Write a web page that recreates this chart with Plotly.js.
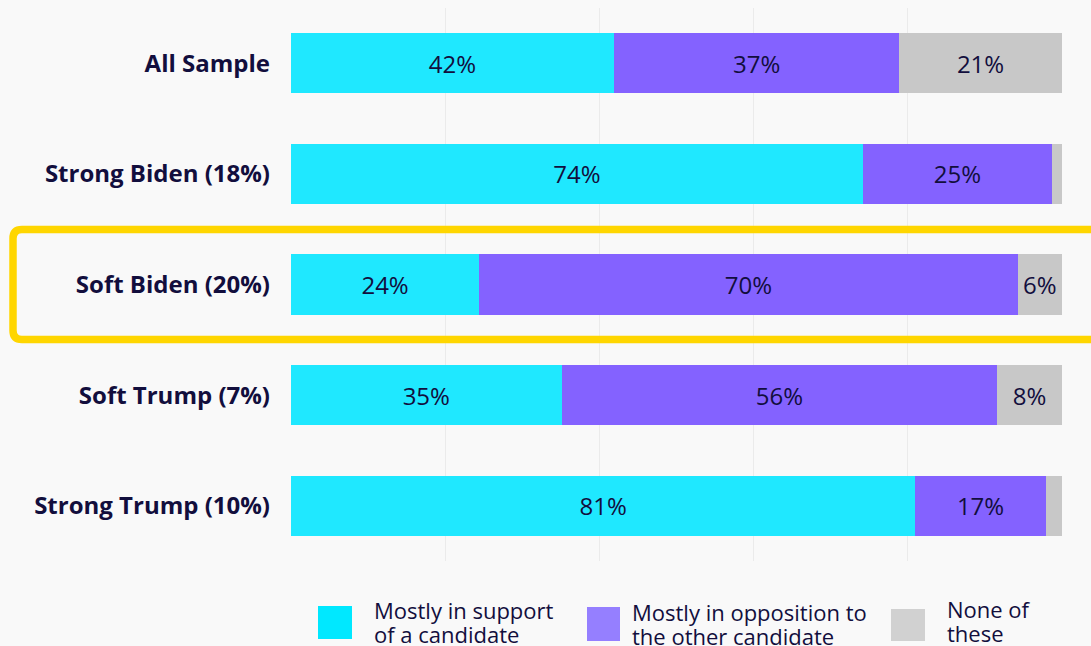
<!DOCTYPE html>
<html>
<head>
<meta charset="utf-8">
<script src="https://cdn.plot.ly/plotly-3.0.1.min.js"></script>
<style>html,body{margin:0;padding:0;background:#F9F9F9;}#chart{width:1091px;height:646px;}</style>
</head>
<body>
<div id="chart"></div>
<script>
const categories = ['All Sample', 'Strong Biden (18%)', 'Soft Biden (20%)', 'Soft Trump (7%)', 'Strong Trump (10%)'];
const support = [41.9, 74.2, 24.4, 35.1, 81.0];
const opposition = [37.0, 24.5, 69.9, 56.5, 16.9];
const noneOf = [21.1, 1.3, 5.7, 8.4, 2.1];
const supportLabels = ['42%', '74%', '24%', '35%', '81%'];
const oppositionLabels = ['37%', '25%', '70%', '56%', '17%'];
const noneLabels = ['21%', '', '6%', '8%', ''];
const seriesNames = ['Mostly in support of a candidate', 'Mostly in opposition to the other candidate', 'None of these'];
const legendLines = [['Mostly in support', 'of a candidate'], ['Mostly in opposition to', 'the other candidate'], ['None of', 'these']];

const W = 1091, H = 646;
const L = 291, R = 29, T = 8, B = 85;
const pw = W - L - R, ph = H - T - B;
const px = x => (x - L) / pw;
const py = y => (H - B - y) / ph;

const FONT = 'Open Sans, sans-serif';
const NAVY = '#120E3D';
const barColors = ['#1FE8FF', '#8462FF', '#C8C8C8'];
const legendColors = ['#00E8FF', '#957FFF', '#D1D1D1'];

function mk(vals, labels, name, color) {
  return {
    type: 'bar', orientation: 'h', y: categories, x: vals, name: name,
    text: labels, textposition: 'inside', insidetextanchor: 'middle',
    constraintext: 'none', cliponaxis: false,
    textfont: {family: FONT, size: 24, color: NAVY},
    marker: {color: color, line: {width: 0}},
    hoverinfo: 'skip'
  };
}
const data = [
  mk(support, supportLabels, seriesNames[0], barColors[0]),
  mk(opposition, oppositionLabels, seriesNames[1], barColors[1]),
  mk(noneOf, noneLabels, seriesNames[2], barColors[2])
];

function roundRect(x0, y0, x1, y1, r) {
  const rx = r / pw, ry = r / ph;
  const a = px(x0), b = px(x1), c = py(y0), d = py(y1);
  return `M ${a+rx},${c} L ${b-rx},${c} Q ${b},${c} ${b},${c-ry} L ${b},${d+ry} Q ${b},${d} ${b-rx},${d} L ${a+rx},${d} Q ${a},${d} ${a},${d+ry} L ${a},${c-ry} Q ${a},${c} ${a+rx},${c} Z`;
}

const shapes = [{
  type: 'path', xref: 'paper', yref: 'paper',
  path: roundRect(13, 229.5, 1100, 339.5, 9),
  line: {color: '#FFD600', width: 7.5}
}];
const annotations = [];
const legSq = [[318, 352, 606, 639], [587, 620, 607, 641], [891, 925, 609, 641]];
const legTx = [[372, 610], [630, 612], [945, 609]];
for (let i = 0; i < 3; i++) {
  const s = legSq[i];
  shapes.push({type: 'rect', xref: 'paper', yref: 'paper', x0: px(s[0]), x1: px(s[1]), y0: py(s[2]), y1: py(s[3]),
    fillcolor: legendColors[i], line: {width: 0}});
  legendLines[i].forEach((ln, j) => {
    annotations.push({xref: 'paper', yref: 'paper', x: px(legTx[i][0]), y: py(legTx[i][1] + 24 * j),
      xanchor: 'left', yanchor: 'middle', text: ln, showarrow: false, align: 'left',
      font: {family: FONT, size: 22, color: NAVY}});
  });
}

const layout = {
  width: W, height: H,
  margin: {l: L, r: R, t: T, b: B, pad: 0},
  paper_bgcolor: '#F9F9F9', plot_bgcolor: '#F9F9F9',
  barmode: 'stack', bargap: 0.455,
  showlegend: false,
  xaxis: {range: [0, 100.02], tickvals: [0, 20, 40, 60, 80, 100], showticklabels: false, showgrid: true,
    gridcolor: '#EBEBEB', gridwidth: 1, zeroline: false, showline: false, fixedrange: true},
  yaxis: {autorange: 'reversed', showgrid: false, zeroline: false, showline: false, ticks: '',
    ticklabelstandoff: 20,
    tickfont: {family: FONT, size: 24, color: NAVY, weight: 'bold'}},
  shapes: shapes, annotations: annotations
};
Plotly.newPlot('chart', data, layout, {displayModeBar: false, staticPlot: true});
</script>
</body>
</html>
